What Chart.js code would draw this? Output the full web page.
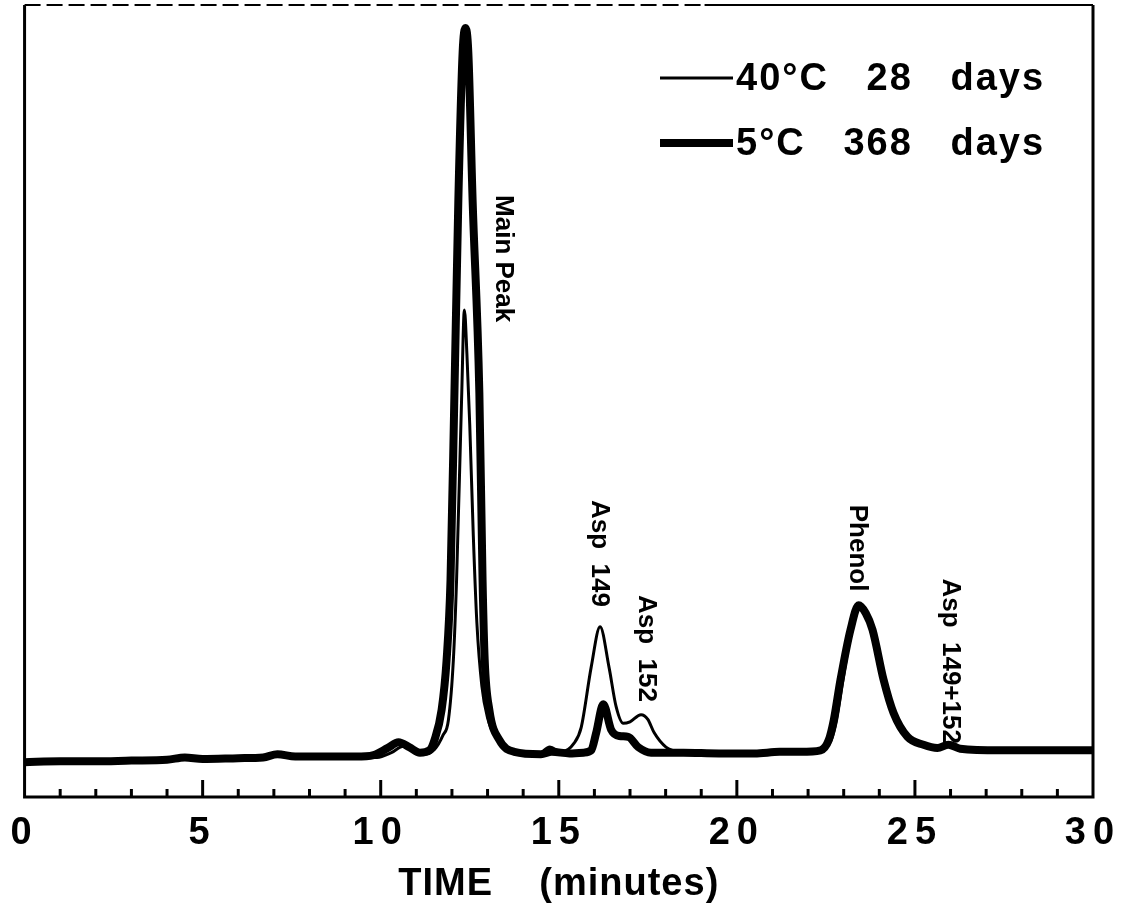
<!DOCTYPE html>
<html>
<head>
<meta charset="utf-8">
<script src="https://cdn.jsdelivr.net/npm/chart.js@4.4.0/dist/chart.umd.min.js"></script>
<style>
  html, body { margin: 0; padding: 0; background: #fff; }
  #wrap { width: 1131px; height: 917px; }
</style>
</head>
<body>
<div id="wrap"><canvas id="myChart" width="1131" height="917"></canvas></div>
<script>
// Series labels
const seriesLabels = ['40\u00B0C   28   days', '5\u00B0C   368   days'];

// 40°C 28 days (thin trace): retention time (min) and detector response
const thinTimes = [0, 2, 4, 4.5, 5, 6, 7.1, 7.6, 9.3, 9.9, 10.3, 10.64, 10.9, 11.2, 11.51, 11.75, 11.9,
  12.04, 12.13, 12.27, 12.35, 12.42, 12.5, 12.6, 12.7, 12.84, 13.0, 13.28, 13.73, 14.4, 14.75, 15.07,
  15.43, 15.63, 15.91, 16.16, 16.41, 16.61, 16.81, 17.0, 17.31, 17.5, 17.68, 18.01, 18.43, 19.5,
  20.5, 21.2, 21.79, 22.4, 22.65, 22.8, 22.98, 23.22, 23.42, 23.81, 24.12, 24.4, 24.79, 25.24,
  25.63, 26.0, 26.3, 27.39, 30];
const thinValues = [4.3, 4.4, 4.6, 4.9, 4.7, 4.8, 5.2, 5.0, 5.0, 5.0, 5.6, 6.4, 5.9, 5.4, 6.0, 7.8, 9.7,
  17.3, 27.4, 50.1, 61.5, 56.0, 47.0, 33.0, 22.0, 14.0, 10.0, 7.2, 5.7, 5.4, 6.3, 5.7,
  6.8, 8.8, 16.4, 21.5, 16.4, 11.4, 9.3, 9.5, 10.4, 9.8, 8.1, 6.3, 5.7, 5.5,
  5.5, 5.7, 5.7, 5.9, 7.2, 9.7, 14.8, 21.1, 24.0, 21.1, 14.8, 10.6, 7.6, 6.6,
  6.2, 6.8, 6.1, 5.9, 5.9];

// 5°C 368 days (thick trace)
const thickTimes = [0, 1, 2, 3, 4, 4.5, 5, 6, 6.7, 7.1, 7.6, 8.5, 9.3, 9.8, 10.2, 10.5, 10.8, 11.1,
  11.37, 11.51, 11.71, 11.85, 11.96, 12.07, 12.18, 12.3, 12.38, 12.46, 12.58, 12.77, 12.86, 12.92,
  13.05, 13.33, 13.75, 14.5, 14.8, 15.3, 15.7, 15.91, 16.05, 16.25, 16.47, 16.7, 16.95, 17.23,
  17.59, 18.5, 19.5, 20.5, 21.2, 21.79, 22.35, 22.58, 22.72, 22.91, 23.19, 23.42, 23.62, 23.81,
  24.12, 24.4, 24.79, 25.24, 25.63, 25.94, 26.27, 27.39, 28.5, 30];
const thickValues = [4.4, 4.5, 4.5, 4.6, 4.7, 5.0, 4.8, 4.9, 5.0, 5.4, 5.1, 5.1, 5.1, 5.3, 6.2, 6.9, 6.3, 5.6,
  5.9, 7.2, 11.0, 17.3, 27.4, 51.0, 75.4, 94.0, 97.1, 94.0, 75.4, 51.0, 27.4, 17.3,
  11.0, 7.2, 5.7, 5.4, 5.7, 5.5, 5.6, 5.9, 8.1, 11.7, 8.5, 7.7, 7.6, 6.3,
  5.6, 5.6, 5.5, 5.5, 5.7, 5.7, 5.9, 7.2, 9.7, 14.8, 21.1, 24.2, 23.2, 21.1,
  14.8, 10.6, 7.6, 6.6, 6.2, 6.6, 6.1, 5.9, 5.9, 5.9];

// Peak names, with the time and signal level where each (vertical) label starts
const peakLabels = ['Main Peak', 'Asp  149', 'Asp  152', 'Phenol', 'Asp  149+152'];
const peakLabelTimes = [13.45, 16.13, 17.45, 23.39, 26.0];
const peakLabelTops = [76.0, 37.5, 25.5, 36.9, 27.6];

const axisTitle = 'TIME    (minutes)';
const fontFamily = "'Liberation Sans', Arial, Helvetica, sans-serif";

function toPoints(times, values) {
  return times.map((t, i) => ({ x: t, y: values[i] }));
}

// Box around the plot and upward ticks on the bottom axis
const framePlugin = {
  id: 'frame',
  afterDatasetsDraw(chart) {
    const { ctx, chartArea } = chart;
    const { left, right, top, bottom } = chartArea;
    const xScale = chart.scales.x;
    ctx.save();
    ctx.strokeStyle = '#000';
    ctx.lineCap = 'butt';

    // left, right and bottom edges
    ctx.lineWidth = 3;
    ctx.beginPath();
    ctx.moveTo(left, top);
    ctx.lineTo(left, bottom);
    ctx.lineTo(right, bottom);
    ctx.lineTo(right, top);
    ctx.stroke();

    // top edge (broken on the left half, as scanned)
    ctx.lineWidth = 2;
    ctx.setLineDash([16, 6]);
    ctx.beginPath();
    ctx.moveTo(left, top);
    ctx.lineTo(left + 680, top);
    ctx.stroke();
    ctx.setLineDash([]);
    ctx.beginPath();
    ctx.moveTo(left + 680, top);
    ctx.lineTo(right, top);
    ctx.stroke();

    // ticks
    ctx.lineWidth = 3;
    xScale.ticks.forEach((tick) => {
      if (tick.value <= 0 || tick.value >= 30) return;
      const px = xScale.getPixelForValue(tick.value);
      const len = tick.value % 5 === 0 ? 17 : 8;
      ctx.beginPath();
      ctx.moveTo(px, bottom);
      ctx.lineTo(px, bottom - len);
      ctx.stroke();
    });
    ctx.restore();
  },
};

// Vertical peak names
const peakLabelPlugin = {
  id: 'peakLabels',
  afterDatasetsDraw(chart) {
    const { ctx } = chart;
    const xScale = chart.scales.x;
    const yScale = chart.scales.y;
    ctx.save();
    ctx.fillStyle = '#000';
    ctx.font = 'bold 26px ' + fontFamily;
    ctx.textAlign = 'left';
    ctx.textBaseline = 'middle';
    peakLabels.forEach((text, i) => {
      const px = xScale.getPixelForValue(peakLabelTimes[i]);
      const py = yScale.getPixelForValue(peakLabelTops[i]);
      ctx.save();
      ctx.translate(px, py);
      ctx.rotate(Math.PI / 2);
      ctx.fillText(text, 0, 0);
      ctx.restore();
    });
    ctx.restore();
  },
};

// Legend inside the plot, top right
const legendPlugin = {
  id: 'innerLegend',
  afterDraw(chart) {
    const { ctx } = chart;
    ctx.save();
    ctx.fillStyle = '#000';
    ctx.strokeStyle = '#000';
    ctx.font = 'bold 38px ' + fontFamily;
    ctx.letterSpacing = '2px';
    ctx.textAlign = 'left';
    ctx.textBaseline = 'middle';
    chart.data.datasets.forEach((ds, i) => {
      const y = 78 + i * 65;
      ctx.lineWidth = ds.borderWidth;
      ctx.beginPath();
      ctx.moveTo(660, y);
      ctx.lineTo(733, y);
      ctx.stroke();
      ctx.fillText(ds.label, 736, y + 2);
    });
    ctx.restore();
  },
};

// Wide digit spacing on the tick labels, axis title drawn separately
const axisTextPlugin = {
  id: 'axisText',
  beforeDraw(chart) {
    chart.ctx.letterSpacing = '7px';
  },
  beforeDatasetsDraw(chart) {
    chart.ctx.letterSpacing = '0px';
  },
  afterDraw(chart) {
    const { ctx, chartArea } = chart;
    ctx.save();
    ctx.letterSpacing = '1px';
    ctx.fillStyle = '#000';
    ctx.font = 'bold 38px ' + fontFamily;
    ctx.textAlign = 'center';
    ctx.textBaseline = 'middle';
    ctx.fillText(axisTitle, (chartArea.left + chartArea.right) / 2, 885);
    ctx.restore();
  },
};

const ctx = document.getElementById('myChart');

new Chart(ctx, {
  type: 'line',
  data: {
    datasets: [
      {
        label: seriesLabels[0],
        data: toPoints(thinTimes, thinValues),
        borderColor: '#000',
        borderWidth: 3,
        pointRadius: 0,
        cubicInterpolationMode: 'monotone',
        fill: false,
      },
      {
        label: seriesLabels[1],
        data: toPoints(thickTimes, thickValues),
        borderColor: '#000',
        borderWidth: 8,
        pointRadius: 0,
        cubicInterpolationMode: 'monotone',
        fill: false,
      },
    ],
  },
  options: {
    responsive: false,
    devicePixelRatio: 1,
    animation: false,
    layout: { padding: { left: 22, right: 38, top: 5, bottom: 0 } },
    plugins: {
      legend: { display: false },
      tooltip: { enabled: false },
    },
    scales: {
      x: {
        type: 'linear',
        min: 0,
        max: 30,
        grid: { display: false, drawTicks: false },
        border: { display: false },
        ticks: {
          stepSize: 1,
          autoSkip: false,
          maxRotation: 0,
          color: '#000',
          padding: 14,
          font: { family: fontFamily, size: 38, weight: 'bold' },
          callback: (value) => (value % 5 === 0 ? String(value) : ''),
        },
        afterFit: (scale) => {
          scale.height = 120;
        },
      },
      y: {
        display: false,
        min: 0,
        max: 100,
      },
    },
  },
  plugins: [axisTextPlugin, framePlugin, peakLabelPlugin, legendPlugin],
});
</script>
</body>
</html>
